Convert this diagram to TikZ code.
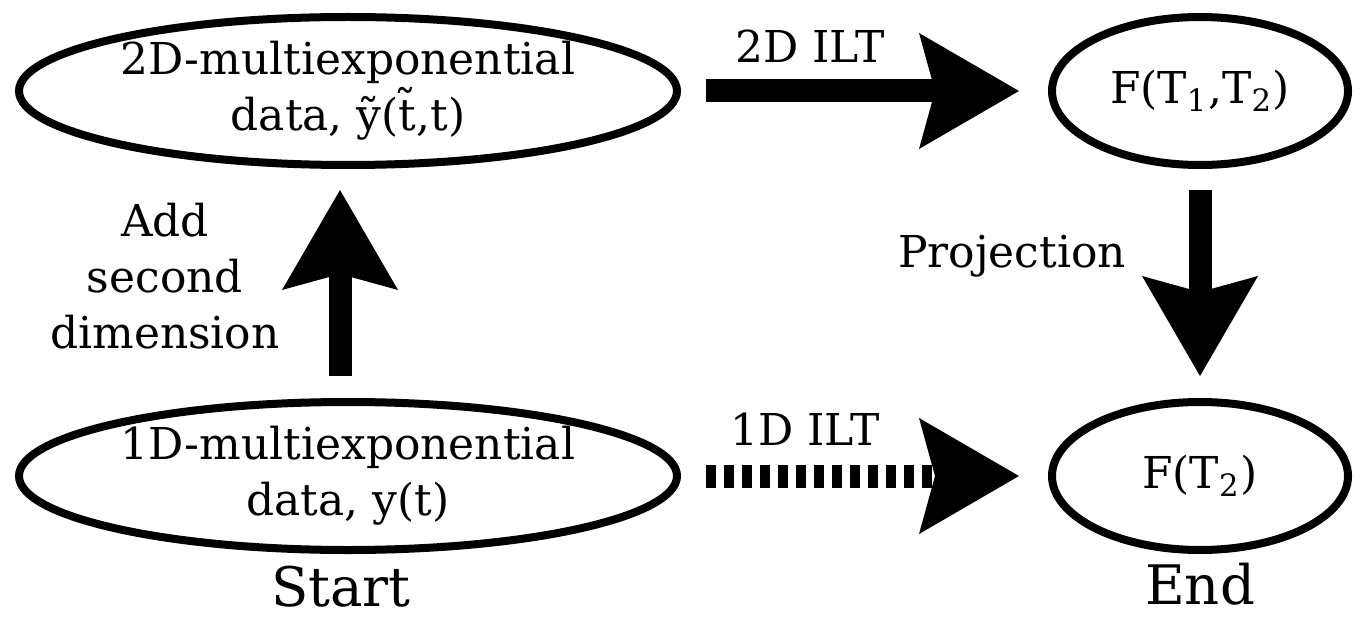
\documentclass[tikz,border=0pt]{standalone}
\usepackage{fontspec}
\setmainfont{DejaVu Serif}
\usetikzlibrary{shapes.geometric, arrows.meta}

\tikzset{
  elipse/.style={ellipse, draw, line width=0.08cm, inner sep=0pt, align=center, minimum height=1.48cm},
  flecha/.style={line width=0.23cm, -{Stealth[length=1cm, width=1.16cm, inset=0.16cm, line width=0pt]}},
  grande/.style={font=\fontsize{15.5}{19}\selectfont},
}

\begin{document}
\begin{tikzpicture}[font=\fontsize{12.5}{16}\selectfont]
  \useasboundingbox (0,0) rectangle (13.63,-6.18);

  % Elipses
  \node[elipse, minimum width=6.58cm] (datos2d) at (3.48,-0.91) {2D-multiexponential\\data, ỹ(\~{t},t)};
  \node[elipse, minimum width=6.58cm] (datos1d) at (3.48,-4.76) {1D-multiexponential\\data, y(t)};
  \node[elipse, minimum width=2.96cm] (ft1t2) at (12.0,-0.91) {F(T\textsubscript{1},T\textsubscript{2})};
  \node[elipse, minimum width=2.96cm] (ft2) at (12.0,-4.76) {F(T\textsubscript{2})};

  % Flechas
  \draw[flecha, shorten <=0.25cm, shorten >=0.29cm] (datos2d.east) -- (ft1t2.west);
  \draw[flecha, dash pattern=on 0.1cm off 0.08cm, shorten <=0.25cm, shorten >=0.29cm] (datos1d.east) -- (ft2.west);
  \draw[flecha, shorten <=0.22cm, shorten >=0.21cm] ([xshift=-0.08cm]datos1d.north) -- ([xshift=-0.08cm]datos2d.south); % hacia arriba
  \draw[flecha, shorten <=0.21cm, shorten >=0.22cm] (ft1t2.south) -- (ft2.north); % hacia abajo

  % Etiquetas
  \node[anchor=base] (ilt2d) at (8.10,-0.63) {2D ILT};
  \node[anchor=base] (ilt1d) at (8.05,-4.45) {1D ILT};
  \node[anchor=base] (proy) at (10.12,-2.67) {Projection};
  \node[align=center] (segunda) at (1.65,-2.76) {Add\\second\\dimension};
  \node[grande, anchor=base] (inicio) at (3.41,-6.06) {Start};
  \node[grande, anchor=base] (fin) at (12.0,-6.04) {End};
\end{tikzpicture}
\end{document}
